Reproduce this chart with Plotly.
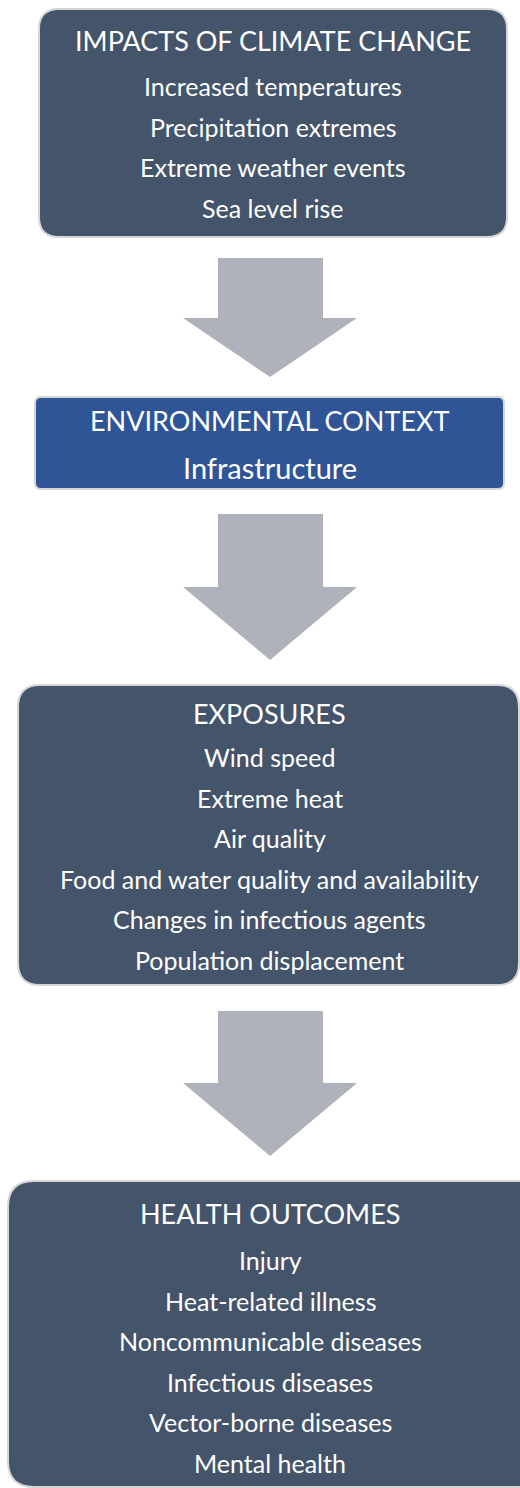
import plotly.graph_objects as go

# ---- content ----
box_titles = ["IMPACTS OF CLIMATE CHANGE", "ENVIRONMENTAL CONTEXT", "EXPOSURES", "HEALTH OUTCOMES"]
impacts_items = ["Increased temperatures", "Precipitation extremes", "Extreme weather events", "Sea level rise"]
context_items = ["Infrastructure"]
exposure_items = ["Wind speed", "Extreme heat", "Air quality",
                  "Food and water quality and availability",
                  "Changes in infectious agents", "Population displacement"]
outcome_items = ["Injury", "Heat-related illness", "Noncommunicable diseases",
                 "Infectious diseases", "Vector-borne diseases", "Mental health"]
box_items = [impacts_items, context_items, exposure_items, outcome_items]

# ---- layout geometry (page pixels) ----
W, H = 520, 1488
DARK = "#44546a"
BLUE = "#2f5597"
ARROW = "#afb2ba"
EDGE = "#d6d6d6"
FONT = "Lato"

boxes = [
    dict(x0=39, x1=507, y0=9, y1=237, r=20, fill=DARK, cx=273, ty=40, y_first=86, dy=40.7, tsize=27, isize=25),
    dict(x0=35, x1=504, y0=397, y1=489, r=6, fill=BLUE, cx=269.5, ty=420, y_first=467, dy=40, tsize=27, isize=29),
    dict(x0=18, x1=519, y0=685, y1=985, r=22, fill=DARK, cx=269.5, ty=713, y_first=757, dy=40.6, tsize=27, isize=25),
    dict(x0=8, x1=545, y0=1181, y1=1487, r=26, fill=DARK, cx=270, ty=1213, y_first=1260, dy=40.6, tsize=27, isize=25),
]
arrows = [
    dict(top=258, shoulder=318, tip=377),
    dict(top=514, shoulder=587, tip=660),
    dict(top=1011, shoulder=1083, tip=1156),
]
shaft = (218, 323)
head = (183, 357)
tipx = 270


def rounded_rect(x0, y0, x1, y1, r):
    return (f"M {x0+r},{y0} L {x1-r},{y0} Q {x1},{y0} {x1},{y0+r} "
            f"L {x1},{y1-r} Q {x1},{y1} {x1-r},{y1} L {x0+r},{y1} "
            f"Q {x0},{y1} {x0},{y1-r} L {x0},{y0+r} Q {x0},{y0} {x0+r},{y0} Z")


fig = go.Figure()
shapes = []
annotations = []

for b, title, items in zip(boxes, box_titles, box_items):
    shapes.append(dict(type="path", xref="x", yref="y",
                       path=rounded_rect(b["x0"], b["y0"], b["x1"], b["y1"], b["r"]),
                       fillcolor=b["fill"], line=dict(color=EDGE, width=2), layer="below"))
    annotations.append(dict(x=b["cx"], y=b["ty"], xref="x", yref="y", text=title, showarrow=False,
                            xanchor="center", yanchor="middle",
                            font=dict(family=FONT, size=b["tsize"], color="white")))
    for i, it in enumerate(items):
        annotations.append(dict(x=b["cx"], y=b["y_first"] + i * b["dy"], xref="x", yref="y", text=it,
                                showarrow=False, xanchor="center", yanchor="middle",
                                font=dict(family=FONT, size=b["isize"], color="white")))

for a in arrows:
    p = (f"M {shaft[0]},{a['top']} L {shaft[1]},{a['top']} L {shaft[1]},{a['shoulder']} "
         f"L {head[1]},{a['shoulder']} L {tipx},{a['tip']} L {head[0]},{a['shoulder']} "
         f"L {shaft[0]},{a['shoulder']} Z")
    shapes.append(dict(type="path", xref="x", yref="y", path=p, fillcolor=ARROW,
                       line=dict(width=0), layer="below"))

fig.update_layout(
    width=W, height=H, margin=dict(l=0, r=0, t=0, b=0),
    paper_bgcolor="white", plot_bgcolor="white",
    xaxis=dict(range=[0, W], visible=False, fixedrange=True),
    yaxis=dict(range=[H, 0], visible=False, fixedrange=True),
    shapes=shapes, annotations=annotations, showlegend=False,
)
fig.write_html("out.html", config={"displayModeBar": False},
               post_script="document.body.style.margin='0';document.body.style.overflow='hidden';")
